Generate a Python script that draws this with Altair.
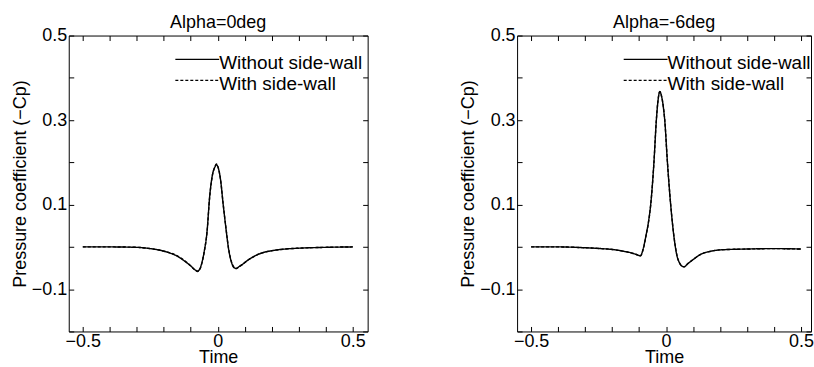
import altair as alt
import pandas as pd

# ---- data ----
series_names = ["Without side-wall", "With side-wall"]
series_dash = [[1, 0], [3, 2]]
panel_titles = ["Alpha=0deg", "Alpha=-6deg"]

time_a0 = [-0.5, -0.4, -0.3, -0.25, -0.2, -0.15, -0.12, -0.1, -0.085, -0.075,
           -0.065, -0.06, -0.05, -0.04, -0.03, -0.02, -0.01, -0.005, 0.0, 0.01,
           0.02, 0.03, 0.04, 0.05, 0.06, 0.068, 0.08, 0.09, 0.11, 0.13,
           0.16, 0.2, 0.25, 0.3, 0.4, 0.5]
cp_a0_without = [0.0, 0.0, -0.001, -0.004, -0.010, -0.022, -0.035, -0.045, -0.054, -0.057,
                 -0.050, -0.040, -0.010, 0.035, 0.120, 0.170, 0.190, 0.195, 0.190, 0.160,
                 0.100, 0.045, -0.005, -0.035, -0.049, -0.051, -0.046, -0.042, -0.032, -0.024,
                 -0.015, -0.009, -0.005, -0.003, -0.001, 0.0]
cp_a0_with = [0.0, 0.0, -0.001, -0.004, -0.010, -0.021, -0.034, -0.045, -0.054, -0.058,
              -0.051, -0.041, -0.011, 0.034, 0.118, 0.169, 0.190, 0.196, 0.191, 0.160,
              0.101, 0.046, -0.004, -0.034, -0.048, -0.051, -0.047, -0.042, -0.032, -0.024,
              -0.015, -0.009, -0.005, -0.003, -0.001, 0.0]

time_a6 = [-0.5, -0.4, -0.3, -0.24, -0.2, -0.16, -0.13, -0.11, -0.095, -0.085,
           -0.075, -0.065, -0.057, -0.045, -0.036, -0.03, -0.023, -0.018, -0.01, -0.005,
           0.005, 0.017, 0.03, 0.04, 0.05, 0.06, 0.067, 0.08, 0.1, 0.13,
           0.16, 0.2, 0.3, 0.4, 0.5]
cp_a6_without = [0.0, 0.0, -0.002, -0.004, -0.006, -0.010, -0.014, -0.018, -0.021, -0.005,
                 0.025, 0.060, 0.100, 0.200, 0.300, 0.345, 0.368, 0.360, 0.330, 0.300,
                 0.200, 0.100, 0.020, -0.020, -0.038, -0.046, -0.047, -0.040, -0.030, -0.017,
                 -0.011, -0.007, -0.005, -0.004, -0.005]
cp_a6_with = [0.0, 0.0, -0.002, -0.004, -0.006, -0.010, -0.014, -0.018, -0.021, -0.006,
              0.024, 0.059, 0.099, 0.199, 0.301, 0.346, 0.367, 0.359, 0.331, 0.301,
              0.201, 0.101, 0.021, -0.019, -0.038, -0.046, -0.047, -0.040, -0.030, -0.017,
              -0.011, -0.007, -0.005, -0.004, -0.005]

x_ticks = [-0.5, -0.4, -0.3, -0.2, -0.1, 0.0, 0.1, 0.2, 0.3, 0.4, 0.5]
y_ticks = [-0.2, -0.1, 0.0, 0.1, 0.2, 0.3, 0.4, 0.5]
x_labels = [-0.5, 0, 0.5]
y_labels = [-0.1, 0.1, 0.3, 0.5]

FONT = "Liberation Sans"


def to_long(t, a, b):
    rows = []
    for name, vals in zip(series_names, [a, b]):
        for i, (x, y) in enumerate(zip(t, vals)):
            rows.append({"time": x, "cp": y, "series": name, "order": i})
    return pd.DataFrame(rows)


def label_expr(vals):
    arr = ",".join(str(v) for v in vals)
    return f"indexof([{arr}], datum.value) >= 0 ? format(datum.value, '~g') : ''"


def legend_layers():
    layers = []
    for i, (name, dash) in enumerate(zip(series_names, series_dash)):
        ly = 24 + 21 * i
        src = alt.Chart(pd.DataFrame({"label": [name]}))
        layers.append(
            src.mark_rule(color="black", strokeWidth=1.3, strokeDash=dash).encode(
                x=alt.value(107), x2=alt.value(151), y=alt.value(ly))
        )
        layers.append(
            src.mark_text(align="left", baseline="middle", fontSize=19, font=FONT,
                          color="black").encode(
                x=alt.value(151), y=alt.value(ly + 4), text="label:N")
        )
    return layers


def panel(df, title, xdomain, width):
    xs = alt.Scale(domain=xdomain, nice=False, zero=False)
    ys = alt.Scale(domain=[-0.2, 0.5], nice=False, zero=False)
    base = alt.Chart(df)
    lines = base.mark_line(color="black", strokeWidth=1.4, interpolate="monotone").encode(
        x=alt.X("time:Q", scale=xs,
                axis=alt.Axis(orient="bottom", values=x_ticks, labelExpr=label_expr(x_labels),
                              title="Time", offset=-5, tickSize=5, domain=False, grid=False,
                              labelPadding=1, titlePadding=-2, labelFlush=False)),
        y=alt.Y("cp:Q", scale=ys,
                axis=alt.Axis(orient="left", values=y_ticks, labelExpr=label_expr(y_labels),
                              title="Pressure coefficient (−Cp)", offset=-5, tickSize=5,
                              domain=False, grid=False, labelPadding=2, titlePadding=2,
                              labelFlush=False)),
        strokeDash=alt.StrokeDash(
            "series:N",
            scale=alt.Scale(domain=series_names, range=series_dash),
            legend=None,
        ),
        order="order:Q",
    )
    frame = base.mark_line(opacity=0).encode(
        x=alt.X("time:Q", scale=xs,
                axis=alt.Axis(orient="top", values=x_ticks, labels=False, title=None,
                              offset=-5, tickSize=5, domain=False, grid=False,
                              minExtent=0, maxExtent=0)),
        y=alt.Y("cp:Q", scale=ys,
                axis=alt.Axis(orient="right", values=y_ticks, labels=False, title=None,
                              offset=-5, tickSize=5, domain=False, grid=False,
                              minExtent=0, maxExtent=0)),
        detail="series:N",
        order="order:Q",
    )
    return alt.layer(lines, frame, *legend_layers()).resolve_axis(
        x="independent", y="independent").properties(
        width=width, height=297,
        title=alt.Title(title, fontSize=18, font=FONT, fontWeight="normal", color="black",
                        offset=-5, anchor="middle"),
    )


p1 = panel(to_long(time_a0, cp_a0_without, cp_a0_with), panel_titles[0], [-0.552, 0.555], 300)
p2 = panel(to_long(time_a6, cp_a6_without, cp_a6_with), panel_titles[1], [-0.552, 0.537], 295)

chart = (
    alt.hconcat(p1, p2, spacing=150, bounds="flush")
    .resolve_scale(strokeDash="independent")
    .properties(
        padding={"left": 10, "top": 12, "right": 0, "bottom": 0},
        background="white",
    )
    .configure(font=FONT)
    .configure_view(stroke="black", strokeWidth=1)
    .configure_axis(labelFont=FONT, labelFontSize=18, labelColor="black",
                    titleFont=FONT, titleFontSize=18, titleFontWeight="normal",
                    titleColor="black", tickColor="black", tickWidth=1)
)

chart.save("out.html", embed_options={"renderer": "svg", "actions": False})
